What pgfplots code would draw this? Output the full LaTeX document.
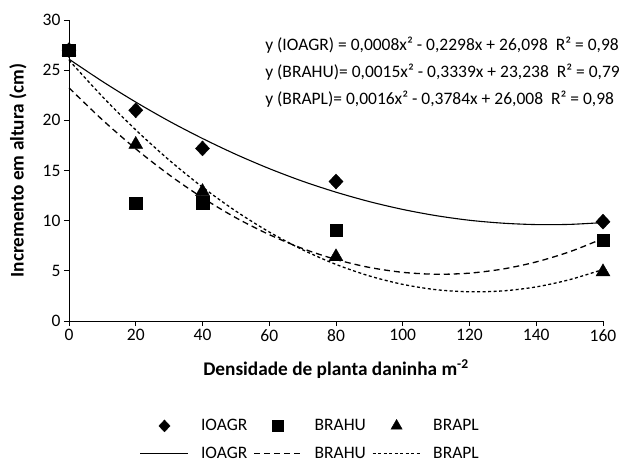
\documentclass[border=0pt]{standalone}
\usepackage{pgfplots}
\pgfplotsset{compat=1.18}
\usepackage{fontspec}
\setmainfont{Carlito}
\pgfplotsset{
  markleg/.style={legend image code/.code={\draw[##1, mark size=#1] plot coordinates {(24pt,0pt)};}},
  lineleg/.style={legend image code/.code={\draw[##1] (0pt,0pt) -- (48pt,0pt);}},
}
\begin{document}
\begin{tikzpicture}
\begin{axis}[
  scale only axis, width=534pt, height=301pt,
  xmin=0, xmax=160, ymin=0, ymax=30,
  xtick={0,20,...,160}, ytick={0,5,...,30},
  axis lines=left, axis line style={-, line width=0.9pt},
  tick align=outside, major tick length=5pt,
  tick style={line width=0.9pt, black},
  /pgf/number format/assume math mode=true,
  ticklabel style={font=\fontsize{17.5}{21}\selectfont},
  xlabel={Densidade de planta daninha m\textsuperscript{-2}},
  ylabel={Incremento em altura (cm)},
  label style={font=\fontsize{19.3}{23}\selectfont\bfseries},
  xlabel style={at={(axis description cs:0.5,-0.16)}, anchor=center},
  ylabel style={at={(axis description cs:-0.0955,0.5)}, anchor=center, rotate=0},
  clip=false,
  legend columns=3,
  legend style={draw=none, font=\fontsize{17.5}{21}\selectfont, at={(axis description cs:0.452,-0.32)}, anchor=north, row sep=11pt, inner sep=0pt},
  legend cell align=left,
  /tikz/every even column/.append style={column sep=4pt},
  /tikz/every odd column/.append style={column sep=10pt},
]
\addplot[only marks, mark=diamond*, mark size=7.5pt, mark options={xscale=1.25}, black, markleg=6pt] coordinates {(0,27) (20,21) (40,17.2) (80,13.9) (160,9.9)};
\addlegendentry{IOAGR}
\addplot[only marks, mark=square*, mark size=6.3pt, black, markleg=5.5pt] coordinates {(0,27) (20,11.75) (40,11.8) (80,9.05) (160,8.05)};
\addlegendentry{BRAHU}
\addplot[only marks, mark=triangle*, mark size=8pt, black, markleg=6.5pt] coordinates {(0,26.9) (20,17.6) (40,12.9) (80,6.4) (160,4.9)};
\addlegendentry{BRAPL}
\addplot[black, line width=1.1pt, smooth, no marks, lineleg] coordinates {(0,26.10) (10,23.88) (20,21.82) (30,19.92) (40,18.19) (50,16.61) (60,15.19) (70,13.93) (80,12.84) (90,11.90) (100,11.12) (110,10.50) (120,10.04) (130,9.75) (140,9.61) (150,9.63) (160,9.81)};
\addlegendentry{IOAGR}
\addplot[black, line width=1.3pt, dash pattern=on 6pt off 4pt, smooth, no marks, lineleg] coordinates {(0,23.24) (10,20.05) (20,17.16) (30,14.57) (40,12.28) (50,10.29) (60,8.61) (70,7.22) (80,6.13) (90,5.34) (100,4.85) (110,4.66) (120,4.77) (130,5.18) (140,5.89) (150,6.90) (160,8.22)};
\addlegendentry{BRAHU}
\addplot[black, line width=1.3pt, dash pattern=on 3pt off 2.5pt, smooth, no marks, lineleg] coordinates {(0,26.0) (10,22.37) (20,19.05) (30,16.04) (40,13.34) (50,10.95) (60,8.87) (70,7.10) (80,5.64) (90,4.49) (100,3.65) (110,3.12) (120,2.91) (130,3.00) (140,3.40) (150,4.12) (160,5.14)};
\addlegendentry{BRAPL}
\node[anchor=west, font=\fontsize{17.5}{21}\selectfont] at (rel axis cs:0.361,0.917) {y (IOAGR) = 0,0008x² - 0,2298x + 26,098\ \ R² = 0,98};
\node[anchor=west, font=\fontsize{17.5}{21}\selectfont] at (rel axis cs:0.361,0.827) {y (BRAHU)= 0,0015x² - 0,3339x + 23,238\ \ R² = 0,79};
\node[anchor=west, font=\fontsize{17.5}{21}\selectfont] at (rel axis cs:0.361,0.738) {y (BRAPL)= 0,0016x² - 0,3784x + 26,008\ \ R² = 0,98};
\end{axis}
\pgfresetboundingbox
\path (-69pt,-143pt) rectangle (558pt,321pt);
\end{tikzpicture}
\end{document}
